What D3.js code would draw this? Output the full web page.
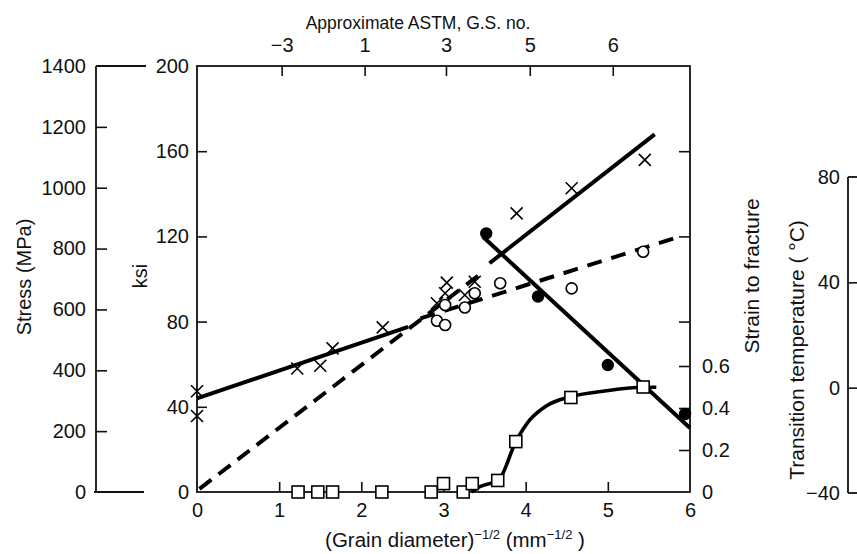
<!DOCTYPE html>
<html><head><meta charset="utf-8">
<script src="https://cdn.jsdelivr.net/npm/d3@7"></script>
<style>
body{margin:0;background:#fff}
text{font-family:"Liberation Sans",Arial,Helvetica,sans-serif;fill:#111}
</style>
</head><body><svg id="c" width="857" height="554"></svg>
<script>
// ---------- data ----------
const xTicks = [0,1,2,3,4,5,6];
const ksiTicks = [0,40,80,120,160,200];
const mpaTicks = [0,200,400,600,800,1000,1200,1400];
const astmTickPos = [1.03,2.04,3.03,4.05,5.06];
const astmLabels = ["\u22123","1","3","5","6"];
const strainTicks = [0,0.2,0.4,0.6];
const tempTicks = [-40,0,40,80];

// crosses: [d^-1/2, ksi]
const crossX   = [0,0,1.22,1.50,1.65,2.26,2.92,3.02,3.04,3.26,3.38,3.89,4.56,5.45];
const crossKsi = [47.3,35.7,58.0,59.3,67.4,77.3,88.6,93.3,98.3,92.5,98.7,130.8,142.6,155.9];
// open circles: [d^-1/2, ksi]
const circX    = [3.02,2.92,3.02,3.26,3.38,3.69,4.56,5.43];
const circKsi  = [87.8,80.4,78.4,86.6,93.3,98.0,95.6,112.8];
// filled circles: transition temperature (C)
const dotX     = [3.52,4.15,5.00,5.94];
const dotTemp  = [58.6,34.6,8.6,-10.0];
// squares: strain to fracture
const sqX      = [1.23,1.47,1.65,2.25,2.85,3.00,3.24,3.35,3.66,3.88,4.55,5.43];
const sqStrain = [0,0,0,0,0,0.04,0,0.04,0.055,0.24,0.45,0.50];

// fitted lines
const lineA = [[0,44],[2.57,77.5]];          // solid, ksi
const lineB = [[0.03,1.5],[3.42,101.5]];     // dashed, ksi
const lineC = [[2.72,81.5],[5.88,120]];      // dashed, ksi
const lineD = [[3.56,107.4],[5.57,167.9]];   // solid, ksi
const lineE = [[3.48,57.3],[6.0,-15.3]];     // solid, temperature
const curveF = [[3.34,0],[3.44,0.025],[3.67,0.057],[3.88,0.24],[4.05,0.343],[4.25,0.41],
                [4.55,0.454],[4.98,0.482],[5.42,0.499],[5.59,0.499]]; // strain

// ---------- layout ----------
const svg = d3.select("#c");
const L = 197, R = 690, T = 66, B = 492;
const x = d3.scaleLinear().domain([0,6]).range([L,R]);
const ksi = d3.scaleLinear().domain([0,200]).range([B,T]);
const mpa = d3.scaleLinear().domain([0,1400]).range([B,T]);
const strain = d3.scaleLinear().domain([0,1]).range([B,B-210]);
const temp = d3.scaleLinear().domain([-40,80]).range([493,177]);
const MX = 96, TX = 848;
const ink = "#111";

function styleAxis(g, fs){
  g.select(".domain").remove();
  g.selectAll(".tick line").attr("stroke",ink).attr("stroke-width",1.6);
  g.selectAll(".tick text").attr("font-size",fs).attr("fill",ink)
   .style("font-family",'"Liberation Sans",Arial,sans-serif');
}

// MPa axis
svg.append("g").attr("transform",`translate(${MX},0)`)
  .call(d3.axisLeft(mpa).tickValues(mpaTicks).tickSize(-11).tickPadding(10).tickFormat(d3.format("d")))
  .call(g=>styleAxis(g,20))
  .call(g=>g.selectAll(".tick line").filter(d=>d===0||d===1400).remove());
svg.append("line").attr("x1",MX).attr("x2",MX).attr("y1",mpa(1400)).attr("y2",mpa(0)).attr("stroke",ink).attr("stroke-width",1.8);
svg.append("line").attr("x1",MX).attr("x2",MX+50).attr("y1",mpa(1400)).attr("y2",mpa(1400)).attr("stroke",ink).attr("stroke-width",1.8);
svg.append("line").attr("x1",MX-2).attr("x2",MX+48).attr("y1",mpa(0)).attr("y2",mpa(0)).attr("stroke",ink).attr("stroke-width",1.8);

// ksi axis (left)
svg.append("g").attr("transform",`translate(${L},0)`)
  .call(d3.axisLeft(ksi).tickValues(ksiTicks).tickSize(-10).tickPadding(8))
  .call(g=>styleAxis(g,20))
  .call(g=>g.selectAll(".tick line").filter(d=>d===0||d===200).remove());

// right side ksi ticks
svg.append("g").attr("transform",`translate(${R},0)`)
  .call(d3.axisRight(ksi).tickValues([80,120,160]).tickSize(-11).tickFormat(""))
  .call(g=>styleAxis(g,20));

// strain axis (right)
svg.append("g").attr("transform",`translate(${R},0)`)
  .call(d3.axisRight(strain).tickValues(strainTicks).tickSize(-11).tickPadding(12)
        .tickFormat(d=>d===0?"0":d3.format(".1f")(d)))
  .call(g=>styleAxis(g,20))
  .call(g=>g.selectAll(".tick line").filter(d=>d===0).remove());

// bottom axis
svg.append("g").attr("transform",`translate(0,${B})`)
  .call(d3.axisBottom(x).tickValues(xTicks).tickSize(-10).tickPadding(11).tickFormat(d3.format("d")))
  .call(g=>styleAxis(g,20))
  .call(g=>g.selectAll(".tick line").filter(d=>d===0||d===6).remove());

// top axis (ASTM grain size)
svg.append("g").attr("transform",`translate(0,${T})`)
  .call(d3.axisTop(x).tickValues(astmTickPos).tickSize(-10).tickPadding(14)
        .tickFormat((d,i)=>astmLabels[i]))
  .call(g=>styleAxis(g,20));

// box
svg.append("rect").attr("x",L).attr("y",T).attr("width",R-L).attr("height",B-T)
  .attr("fill","none").attr("stroke",ink).attr("stroke-width",1.8);

// temperature axis
svg.append("g").attr("transform",`translate(${TX},0)`)
  .call(d3.axisLeft(temp).tickValues(tempTicks).tickSize(-10).tickPadding(8))
  .call(g=>styleAxis(g,20))
  .call(g=>g.selectAll(".tick line").filter(d=>d===-40||d===80).remove());
svg.append("line").attr("x1",TX).attr("x2",TX).attr("y1",temp(80)).attr("y2",temp(-40)).attr("stroke",ink).attr("stroke-width",1.8);
svg.append("line").attr("x1",TX).attr("x2",TX+12).attr("y1",temp(80)).attr("y2",temp(80)).attr("stroke",ink).attr("stroke-width",1.8);
svg.append("line").attr("x1",TX).attr("x2",TX+12).attr("y1",temp(-40)).attr("y2",temp(-40)).attr("stroke",ink).attr("stroke-width",1.8);

// ---------- titles ----------
function vlabel(txt, xx, yy, fs){
  svg.append("text").attr("transform",`translate(${xx},${yy}) rotate(-90)`)
    .attr("text-anchor","middle").attr("font-size",fs).text(txt);
}
vlabel("Stress (MPa)", 30.5, 277, 20);
vlabel("ksi", 146.5, 276, 20);
vlabel("Strain to fracture", 759, 276, 21);
vlabel("Transition temperature ( \u00B0C)", 804, 350, 21);

svg.append("text").attr("x",418).attr("y",29).attr("text-anchor","middle")
  .attr("font-size",17.5).text("Approximate ASTM, G.S. no.");

const bt = svg.append("text").attr("x",455).attr("y",547).attr("text-anchor","middle").attr("font-size",20.5);
bt.append("tspan").text("(Grain diameter)");
bt.append("tspan").attr("dy",-8).attr("font-size",13).text("\u22121/2");
bt.append("tspan").attr("dy",8).text(" (mm");
bt.append("tspan").attr("dy",-8).attr("font-size",13).text("\u22121/2");
bt.append("tspan").attr("dy",8).text(" )");

// ---------- lines ----------
const lk = d3.line().x(d=>x(d[0])).y(d=>ksi(d[1]));
const lt = d3.line().x(d=>x(d[0])).y(d=>temp(d[1]));
const ls = d3.line().x(d=>x(d[0])).y(d=>strain(d[1])).curve(d3.curveMonotoneX);
const pathStyle = (p,dash)=>p.attr("fill","none").attr("stroke","#000").attr("stroke-width",4)
  .attr("stroke-dasharray",dash||null);
svg.append("path").attr("d",lk(lineA)).call(p=>pathStyle(p));
svg.append("path").attr("d",lk(lineB)).call(p=>pathStyle(p,"15 9"));
svg.append("path").attr("d",lk(lineC)).call(p=>pathStyle(p,"15 10"));
svg.append("path").attr("d",lk(lineD)).call(p=>pathStyle(p));
svg.append("path").attr("d",lt(lineE)).call(p=>pathStyle(p));
svg.append("path").attr("d",ls(curveF)).call(p=>pathStyle(p)).attr("stroke-width",3.6);

// ---------- markers ----------
const cr = 6;
svg.append("g").selectAll("path").data(crossX.map((v,i)=>[v,crossKsi[i]])).join("path")
  .attr("d",d=>{const cx=x(d[0]),cy=ksi(d[1]);
    return `M${cx-cr},${cy-cr}L${cx+cr},${cy+cr}M${cx-cr},${cy+cr}L${cx+cr},${cy-cr}`;})
  .attr("stroke","#000").attr("stroke-width",1.6).attr("fill","none");

svg.append("g").selectAll("circle").data(circX.map((v,i)=>[v,circKsi[i]])).join("circle")
  .attr("cx",d=>x(d[0])).attr("cy",d=>ksi(d[1])).attr("r",5.5)
  .attr("fill","#fff").attr("stroke","#000").attr("stroke-width",1.6);

svg.append("g").selectAll("circle").data(dotX.map((v,i)=>[v,dotTemp[i]])).join("circle")
  .attr("cx",d=>x(d[0])).attr("cy",d=>temp(d[1])).attr("r",6.2).attr("fill","#000");

const sq = 12;
svg.append("g").selectAll("rect").data(sqX.map((v,i)=>[v,sqStrain[i]])).join("rect")
  .attr("x",d=>x(d[0])-sq/2).attr("y",d=>strain(d[1])-sq/2).attr("width",sq).attr("height",sq)
  .attr("fill","#fff").attr("stroke","#000").attr("stroke-width",1.6);
</script>
</body></html>
